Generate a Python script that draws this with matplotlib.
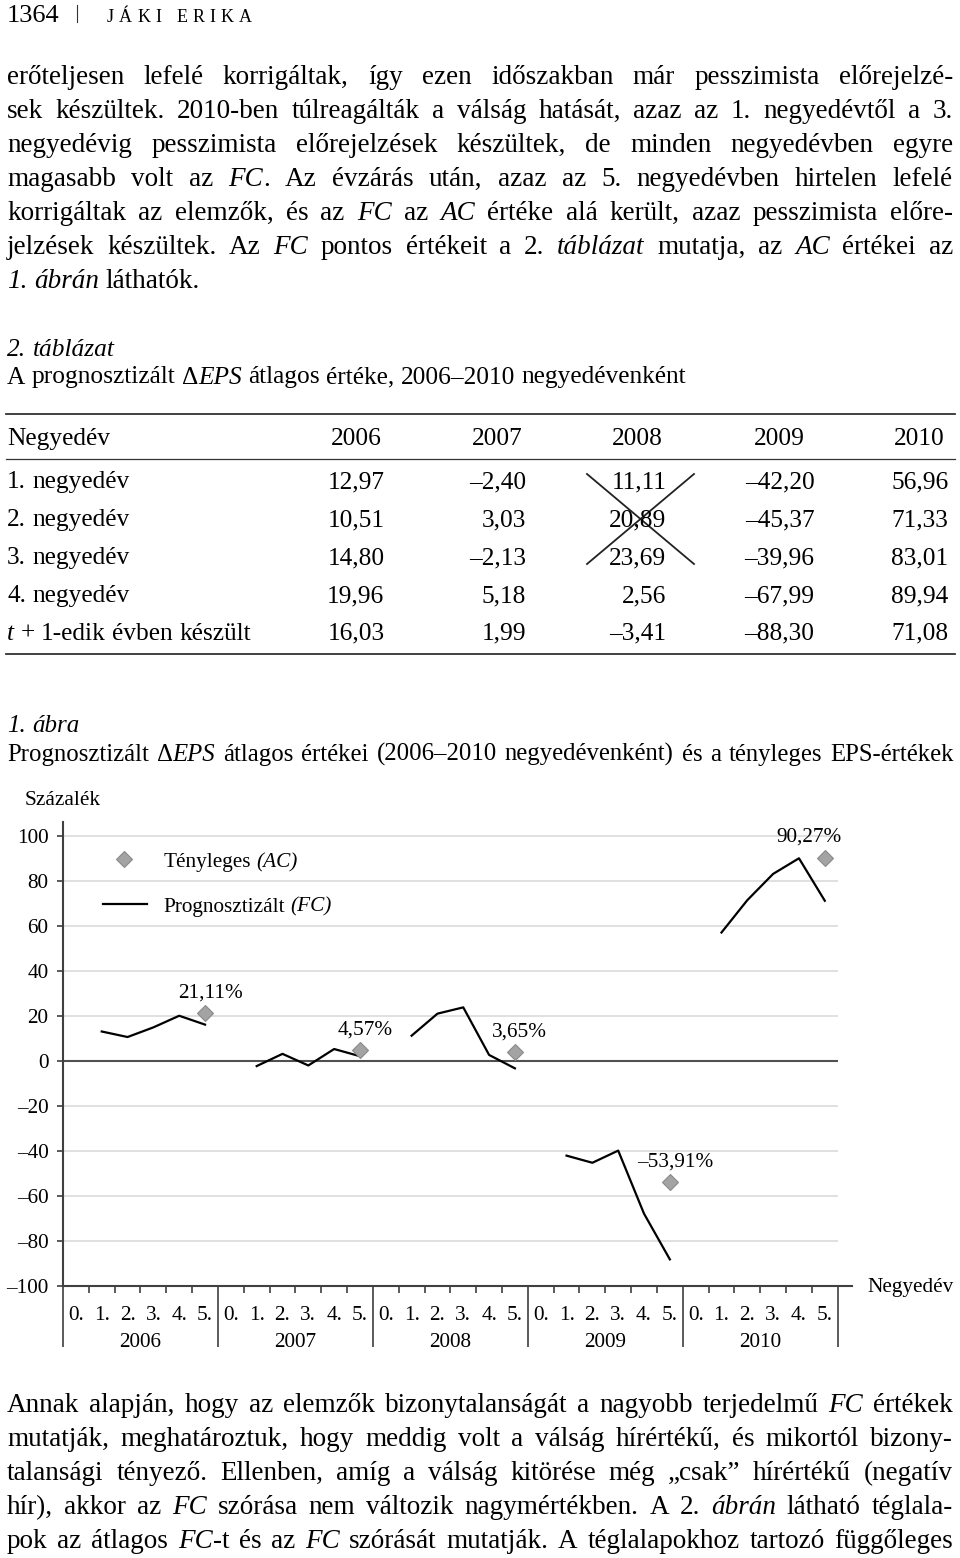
import numpy as np
import matplotlib
matplotlib.use('Agg')
import matplotlib.pyplot as plt

W, H = 960, 1558
SERIF = 'Liberation Serif'
BODY = 19.5
TABLE = 18.3
SMALL = 15.3
plt.rcParams['font.family'] = [SERIF, 'DejaVu Serif']

# data
years = [2006, 2007, 2008, 2009, 2010]
row_labels = ['1. negyedév', '2. negyedév', '3. negyedév', '4. negyedév',
              '*t* + 1-edik évben készült']
fc_values = [
    [12.97, 10.51, 14.80, 19.96, 16.03],
    [-2.40, 3.03, -2.13, 5.18, 1.99],
    [11.11, 20.89, 23.69, 2.56, -3.41],
    [-42.20, -45.37, -39.96, -67.99, -88.30],
    [56.96, 71.33, 83.01, 89.94, 71.08],
]
ac_values = [21.11, 4.57, 3.65, -53.91, 90.27]
quarter_ticks = ['0.', '1.', '2.', '3.', '4.', '5.']
y_ticks = [-100, -80, -60, -40, -20, 0, 20, 40, 60, 80, 100]

para_top = [
    'erőteljesen lefelé korrigáltak, így ezen időszakban már pesszimista előrejelzé-',
    'sek készültek. 2010-ben túlreagálták a válság hatását, azaz az 1. negyedévtől a 3.',
    'negyedévig pesszimista előrejelzések készültek, de minden negyedévben egyre',
    'magasabb volt az *FC*. Az évzárás után, azaz az 5. negyedévben hirtelen lefelé',
    'korrigáltak az elemzők, és az *FC* az *AC* értéke alá került, azaz pesszimista előre-',
    'jelzések készültek. Az *FC* pontos értékeit a 2. *táblázat* mutatja, az *AC* értékei az',
    '*1. ábrán* láthatók.',
]
para_bottom = [
    'Annak alapján, hogy az elemzők bizonytalanságát a nagyobb terjedelmű *FC* értékek',
    'mutatják, meghatároztuk, hogy meddig volt a válság hírértékű, és mikortól bizony-',
    'talansági tényező. Ellenben, amíg a válság kitörése még „csak” hírértékű (negatív',
    'hír), akkor az *FC* szórása nem változik nagymértékben. A 2. *ábrán* látható téglala-',
    'pok az átlagos *FC*-t és az *FC* szórását mutatják. A téglalapokhoz tartozó függőleges',
]


def fmt(v):
    return f'{v:.2f}'.replace('.', ',').replace('-', '–')


fig = plt.figure(figsize=(W / 100, H / 100), dpi=100)
renderer = fig.canvas.get_renderer()


def put(x, y, s, italic=False, size=BODY, ha='left'):
    return fig.text(x / W, 1 - y / H, s, fontsize=size, family=SERIF,
                    style='italic' if italic else 'normal', ha=ha, va='baseline')


def width(t):
    return t.get_window_extent(renderer).width


def parse(line):
    words, cur, buf, it = [], [], '', False
    for ch in line:
        if ch == '*':
            if buf:
                cur.append((buf, it))
                buf = ''
            it = not it
        elif ch == ' ':
            if buf:
                cur.append((buf, it))
                buf = ''
            if cur:
                words.append(cur)
                cur = []
        else:
            buf += ch
    if buf:
        cur.append((buf, it))
    if cur:
        words.append(cur)
    return words


def rich_line(x0, y, line, size=BODY, x1=None):
    words = parse(line)
    objs, total = [], 0
    for word in words:
        parts = [put(0, y, s, it, size) for s, it in word]
        ws = [width(p) for p in parts]
        objs.append((parts, ws))
        total += sum(ws)
    gap = 0.25 * size * 100 / 72
    if x1 is not None and len(words) > 1:
        gap = max((x1 - x0 - total) / (len(words) - 1), 0.15 * size * 100 / 72)
    x = x0
    for parts, ws in objs:
        for p, w in zip(parts, ws):
            p.set_x(x / W)
            x += w
        x += gap


def hline(x0, x1, y, lw=1.0, color='#333333'):
    fig.add_artist(plt.Line2D([x0 / W, x1 / W], [1 - y / H, 1 - y / H],
                              lw=lw, color=color))


# running head
put(7, 21.7, '1364', size=19)
fig.add_artist(plt.Line2D([76.7 / W] * 2, [1 - 5 / H, 1 - 22 / H], lw=0.8, color='#333333'))
head = list('JÁKI ERIKA')
hobjs = [put(0, 21.7, c, size=13) for c in head]
hws = [width(o) if c != ' ' else 5 for o, c in zip(hobjs, head)]
hgap = (252 - 107 - sum(hws)) / (len(head) - 1)
hx = 107
for o, w in zip(hobjs, hws):
    o.set_x(hx / W)
    hx += w + hgap

# top paragraph
for i, line in enumerate(para_top):
    last = i == len(para_top) - 1
    rich_line(7, 83.5 + 34 * i, line, x1=None if last else 953)

# table
rich_line(7, 356, '*2. táblázat*', size=TABLE)
rich_line(7, 383.5, 'A prognosztizált Δ*EPS* átlagos értéke, 2006–2010 negyedévenként', size=TABLE)
hline(6, 955, 414, lw=1.3)
hline(6, 955, 459, lw=0.9)
hline(6, 955, 654, lw=1.3)
head_right = [381.5, 522.5, 662.7, 805, 945]
num_right = [384.5, 526, 666.5, 814.5, 948.5]
put(7, 445, 'Negyedév', size=TABLE)
for k, yr in enumerate(years):
    put(head_right[k], 445, str(yr), size=TABLE, ha='right')
for r, lab in enumerate(row_labels):
    yb = 488.3 + 37.9 * r
    rich_line(7, yb, lab, size=TABLE)
    for k in range(len(years)):
        put(num_right[k], yb, fmt(fc_values[k][r]), size=TABLE, ha='right')
for (xa, ya), (xb, yb) in [((587, 474), (694, 564)), ((694, 474), (587, 564))]:
    fig.add_artist(plt.Line2D([xa / W, xb / W], [1 - ya / H, 1 - yb / H], lw=1.3, color='#222222'))

# figure caption
rich_line(7, 731.7, '*1. ábra*', size=18)
rich_line(7, 761, 'Prognosztizált Δ*EPS* átlagos értékei (2006–2010 negyedévenként) és a tényleges EPS-értékek',
          size=17.8, x1=954)

# chart
ax = fig.add_axes([63 / W, 1 - 1285.7 / H, 774.7 / W, 464 / H])
ax.set_xlim(0, 30)
ax.set_ylim(-100, 106.2)
for s in ['top', 'right', 'bottom']:
    ax.spines[s].set_visible(False)
ax.spines['left'].set_color('#404040')
ax.spines['left'].set_linewidth(1.5)

for v in y_ticks:
    if v not in (0, -100):
        ax.axhline(v, color='#dadada', lw=1.2, zorder=0)
ax.axhline(0, color='#505050', lw=1.5, zorder=1)
ax.plot([0, 30.54], [-100, -100], color='#404040', lw=1.5, clip_on=False)

ax.set_yticks(y_ticks)
ax.set_yticklabels([str(v).replace('-', '–') for v in y_ticks])
ax.tick_params(axis='y', length=4.5, width=1.2, color='#404040', pad=6, labelsize=SMALL)
ax.set_xticks(range(0, 31, 6))
ax.set_xticks([i for i in range(31) if i % 6], minor=True)
ax.set_xticklabels([])
ax.tick_params(axis='x', which='major', length=44, width=1.2, color='#404040')
ax.tick_params(axis='x', which='minor', length=5, width=1.2, color='#404040')

for k, yr in enumerate(years):
    xs = k * 6 + np.arange(1, 6) + 0.5
    ax.plot(xs, fc_values[k], color='black', lw=1.6, zorder=3)
    xa = k * 6 + 5.5
    ax.plot([xa], [ac_values[k]], marker='D', ms=8.5, color='#a3a3a3',
            mec='#8a8a8a', mew=0.8, ls='none', zorder=4)
    dx = -11.3 if k == len(years) - 1 else 3.6
    ax.annotate(fmt(ac_values[k]) + '%', (xa, ac_values[k]), xytext=(dx, 11.2),
                textcoords='offset points', ha='center', va='baseline', fontsize=SMALL)
    for q, lab in enumerate(quarter_ticks):
        ax.text(k * 6 + q + 0.5, -115.2, lab, ha='center', va='baseline',
                fontsize=SMALL, clip_on=False)
    ax.text(k * 6 + 3, -127.1, str(yr), ha='center', va='baseline',
            fontsize=SMALL, clip_on=False)

ax.text(31.15, -102.7, 'Negyedév', ha='left', va='baseline', fontsize=SMALL, clip_on=False)
ax.text(-1.47, 113.6, 'Százalék', ha='left', va='baseline', fontsize=SMALL, clip_on=False)

# legend
ax.plot([0.0791], [0.9196], marker='D', ms=8.5, color='#a3a3a3', mec='#8a8a8a',
        mew=0.8, ls='none', transform=ax.transAxes)
ax.plot([0.0512, 0.1080], [0.8226, 0.8226], color='black', lw=1.6, transform=ax.transAxes)
rich_line(163.3, 867.3, 'Tényleges *(AC)*', size=SMALL)
rich_line(163.3, 911.7, 'Prognosztizált *(FC)*', size=SMALL)

# bottom paragraph
for i, line in enumerate(para_bottom):
    rich_line(7, 1412 + 34 * i, line, x1=953)

fig.savefig('out.png', dpi=100)
